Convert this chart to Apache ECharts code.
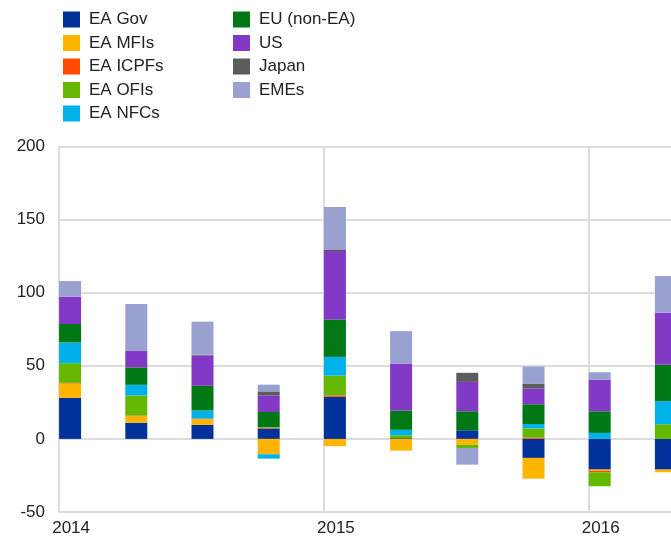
<!DOCTYPE html>
<html>
<head>
<meta charset="utf-8">
<script src="https://cdn.jsdelivr.net/npm/echarts@6/dist/echarts.min.js"></script>
<style>
  html, body { margin: 0; padding: 0; background: #fff; }
  #chart { width: 671px; height: 541px; }
</style>
</head>
<body>
<div id="chart"></div>
<script>
// quarters, 2014 Q1 .. 2016 Q2 (last one cut by the frame)
const quarters = ['2014Q1', '2014Q2', '2014Q3', '2014Q4', '2015Q1', '2015Q2', '2015Q3', '2015Q4', '2016Q1', '2016Q2'];
const yearLabels = { 0: '2014', 4: '2015', 8: '2016' };

const eaGov   = [28.1, 11.0, 9.6, 7.1, 28.8, 0.5, 5.9, -13.0, -21.0, -21.0];
const eaMfis  = [9.8, 4.6, 3.9, -10.5, -5.0, -8.0, -4.0, -14.2, -0.8, -1.8];
const eaIcpfs = [0.4, 0.4, 0.4, 0.5, 1.0, 0, 0, 1.0, -1.0, 0];
const eaOfis  = [13.5, 13.7, 0, 0.5, 13.5, 2.0, -2.2, 6.2, -9.6, 10.0];
const eaNfcs  = [14.2, 7.3, 5.5, -3.0, 12.8, 3.7, 0, 3.0, 4.1, 15.8];
const euNonEa = [12.6, 11.9, 16.9, 10.3, 25.6, 13.0, 13.0, 13.5, 14.8, 24.9];
const us      = [18.7, 11.2, 20.8, 11.4, 46.8, 32.4, 20.1, 10.7, 21.7, 35.6];
const japan   = [0, 0, 0.5, 2.7, 1.1, 0, 6.2, 3.2, 0, 0];
const emes    = [10.7, 32.2, 22.6, 4.6, 29.0, 22.1, -11.4, 11.9, 5.0, 25.1];

const seriesDefs = [
  ['EA Gov', eaGov, '#003299'],
  ['EA MFIs', eaMfis, '#ffb400'],
  ['EA ICPFs', eaIcpfs, '#ff4b00'],
  ['EA OFIs', eaOfis, '#65b800'],
  ['EA NFCs', eaNfcs, '#00b1ea'],
  ['EU (non-EA)', euNonEa, '#007816'],
  ['US', us, '#8139c6'],
  ['Japan', japan, '#5c5c5c'],
  ['EMEs', emes, '#98a1d0']
];

const FONT = '"Liberation Sans", Arial, sans-serif';
const chart = echarts.init(document.getElementById('chart'));

const series = seriesDefs.map(([name, data, color]) => ({
  name: name,
  type: 'bar',
  stack: 'total',
  data: data,
  barWidth: 22,
  barGap: '0%',
  itemStyle: { color: color },
  emphasis: { disabled: true }
}));
// two empty stacks so the real bar sits at the left of each quarter slot
['padA', 'padB'].forEach(id => {
  series.push({
    name: id,
    type: 'bar',
    stack: id,
    data: quarters.map(() => null),
    barWidth: 22,
    barGap: '0%',
    silent: true
  });
});

const legendBase = {
  orient: 'vertical',
  top: 6,
  itemWidth: 17,
  itemHeight: 16,
  itemGap: 6.5,
  icon: 'rect',
  selectedMode: false,
  textStyle: { fontFamily: FONT, fontSize: 17, color: '#222', lineHeight: 16, padding: [0, 0, 0, 4] }
};

chart.setOption({
  animation: false,
  legend: [
    Object.assign({}, legendBase, { left: 58, data: seriesDefs.slice(0, 5).map(d => d[0]) }),
    Object.assign({}, legendBase, { left: 228, data: seriesDefs.slice(5).map(d => d[0]) })
  ],
  // the plot runs past the right edge of the frame
  grid: { left: 59, right: -50, top: 146.5, bottom: 29, outerBoundsMode: 'none', containLabel: false },
  xAxis: {
    type: 'category',
    data: quarters,
    boundaryGap: true,
    axisLine: { show: false },
    axisTick: { show: false },
    axisLabel: {
      interval: 0,
      formatter: (v, i) => yearLabels[i] || '',
      fontFamily: FONT,
      fontSize: 17,
      color: '#222',
      margin: 8,
      padding: [0, 42, 0, 0]
    },
    splitLine: {
      show: true,
      interval: i => i % 4 === 0,
      lineStyle: { color: '#dcdcdc', width: 2 }
    }
  },
  yAxis: {
    type: 'value',
    min: -50,
    max: 200,
    interval: 50,
    axisLine: { show: false },
    axisTick: { show: false },
    axisLabel: { fontFamily: FONT, fontSize: 17, color: '#222', margin: 14 },
    splitLine: { lineStyle: { color: '#dcdcdc', width: 2 } }
  },
  series: series
});
</script>
</body>
</html>
